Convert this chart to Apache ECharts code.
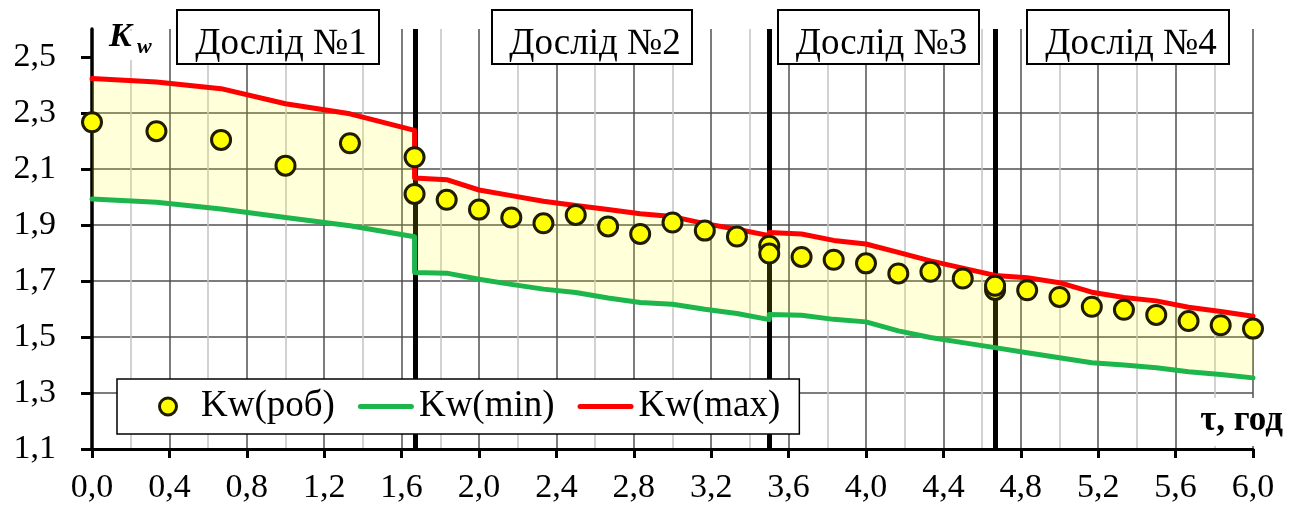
<!DOCTYPE html>
<html>
<head>
<meta charset="utf-8">
<script src="https://cdn.jsdelivr.net/npm/echarts@6/dist/echarts.min.js"></script>
<style>
  html, body { margin: 0; padding: 0; background: #fff; }
  #chart { width: 1297px; height: 510px; }
</style>
</head>
<body>
<div id="chart"></div>
<script>
// Time, years: envelope sampling points (duplicated at the joins between experiments)
const envT = [0, 0.333, 0.667, 1.0, 1.333, 1.667,
  1.667, 1.833, 2.0, 2.167, 2.333, 2.5, 2.667, 2.833, 3.0, 3.167, 3.333, 3.5,
  3.5, 3.667, 3.833, 4.0, 4.167, 4.333, 4.5, 4.667,
  4.833, 5.0, 5.167, 5.333, 5.5, 5.667, 5.833, 6.0];

// Upper bound of the wear coefficient
const kwMax = [2.423, 2.411, 2.387, 2.333, 2.297, 2.238,
  2.068, 2.062, 2.025, 2.005, 1.985, 1.970, 1.955, 1.940, 1.930, 1.905, 1.885, 1.862,
  1.873, 1.868, 1.845, 1.832, 1.802, 1.772, 1.746, 1.720,
  1.712, 1.694, 1.660, 1.641, 1.629, 1.606, 1.591, 1.574];

// Lower bound of the wear coefficient
const kwMin = [1.993, 1.981, 1.957, 1.927, 1.897, 1.858,
  1.730, 1.728, 1.706, 1.688, 1.671, 1.659, 1.639, 1.623, 1.617, 1.599, 1.584, 1.562,
  1.580, 1.578, 1.563, 1.554, 1.522, 1.498, 1.480, 1.462,
  1.444, 1.426, 1.408, 1.400, 1.390, 1.376, 1.366, 1.354];

// Measured (working) values
const workT = [0, 0.333, 0.667, 1.0, 1.333, 1.667,
  1.667, 1.833, 2.0, 2.167, 2.333, 2.5, 2.667, 2.833, 3.0, 3.167, 3.333, 3.5,
  3.5, 3.667, 3.833, 4.0, 4.167, 4.333, 4.5, 4.667,
  4.667, 4.833, 5.0, 5.167, 5.333, 5.5, 5.667, 5.833, 6.0];
const kwWork = [2.267, 2.235, 2.204, 2.112, 2.192, 2.142,
  2.011, 1.990, 1.955, 1.927, 1.906, 1.936, 1.895, 1.868, 1.909, 1.880, 1.859, 1.826,
  1.798, 1.786, 1.776, 1.763, 1.727, 1.733, 1.709, 1.668,
  1.683, 1.667, 1.643, 1.608, 1.597, 1.579, 1.557, 1.542, 1.530];

// Boundaries between experiments, years
const boundaries = [1.667, 3.5, 4.667];

// Experiment titles
const expTitles = ['Дослід №1', 'Дослід №2', 'Дослід №3', 'Дослід №4'];

// Y tick values
const yTicks = [1.1, 1.3, 1.5, 1.7, 1.9, 2.1, 2.3, 2.5];

const FONT = '"Liberation Serif", "Times New Roman", serif';
const fmt = v => v.toFixed(1).replace('.', ',');
const zip = (xs, ys) => xs.map((x, i) => [x, ys[i]]);

// legend glyph for the line series: a short thick stroke with round ends
const LINE_ICON = 'path://M2.5,0 H53.5 A2.5,2.5 0 0 1 53.5,5 H2.5 A2.5,2.5 0 0 1 2.5,0 Z';

// Title boxes above the plot: [left, width]
const boxGeom = [[177, 202], [492, 200], [778, 201], [1027, 202]];

const graphics = [];
// white patch behind the axis name
graphics.push({ type: 'rect', z: 50, shape: { x: 106, y: 31, width: 54, height: 29 }, style: { fill: '#fff' } });
graphics.push({ type: 'text', z: 51, x: 109, y: 37,
  style: { text: 'K', fontFamily: FONT, fontSize: 34, fontWeight: 'bold', fontStyle: 'italic', fill: '#000', verticalAlign: 'middle' } });
graphics.push({ type: 'text', z: 51, x: 137, y: 47,
  style: { text: 'w', fontFamily: FONT, fontSize: 22, fontWeight: 'bold', fontStyle: 'italic', fill: '#000', verticalAlign: 'middle' } });
expTitles.forEach((t, i) => {
  const [bx, bw] = boxGeom[i];
  graphics.push({ type: 'rect', z: 50, shape: { x: bx, y: 10, width: bw, height: 54 },
    style: { fill: '#fff', stroke: '#000', lineWidth: 2 } });
  graphics.push({ type: 'text', z: 51, x: bx + bw / 2 + 3, y: 44,
    style: { text: t, fontFamily: FONT, fontSize: 37, fill: '#000', align: 'center', verticalAlign: 'middle' } });
});
// x axis name
graphics.push({ type: 'rect', z: 50, shape: { x: 1188, y: 398, width: 100, height: 48 }, style: { fill: '#fff' } });
graphics.push({ type: 'text', z: 51, x: 1283, y: 421,
  style: { text: 'τ, год', fontFamily: FONT, fontSize: 35, fontWeight: 'bold', fill: '#000', align: 'right', verticalAlign: 'middle' } });

const option = {
  animation: false,
  backgroundColor: '#fff',
  grid: { left: 92, right: 44, top: 29, bottom: 61 },
  xAxis: {
    type: 'value', min: 0, max: 6, interval: 0.4,
    axisLine: { show: true, onZero: false, lineStyle: { color: '#000', width: 3 } },
    axisTick: { show: true, length: 9, lineStyle: { color: '#000', width: 3 } },
    axisLabel: { formatter: fmt, fontFamily: FONT, fontSize: 34, color: '#000', margin: 22 },
    splitLine: { show: true, lineStyle: { color: '#505050', width: 1.5 } },
    minorTick: { show: false, splitNumber: 2 },
    minorSplitLine: { show: true, lineStyle: { color: '#c4c4c4', width: 1.5 } }
  },
  yAxis: {
    type: 'value', min: 1.1, max: 2.6, interval: 0.2,
    axisLine: { show: true, onZero: false, lineStyle: { color: '#000', width: 3.5 } },
    axisTick: { show: true, length: 11, customValues: yTicks, lineStyle: { color: '#000', width: 3 } },
    axisLabel: {
      formatter: v => (v > 2.55 ? '' : fmt(v)),
      fontFamily: FONT, fontSize: 34, color: '#000', margin: 36
    },
    splitLine: { show: true, showMinLine: false, showMaxLine: false, lineStyle: { color: '#505050', width: 1.5 } }
  },
  legend: {
    data: [
      { name: 'Kw(роб)', icon: 'circle',
        itemStyle: { color: '#ffff00', borderColor: '#1f1c00', borderWidth: 3 } },
      { name: 'Kw(min)', icon: LINE_ICON, itemStyle: { color: '#1db64c', borderWidth: 0 } },
      { name: 'Kw(max)', icon: LINE_ICON, itemStyle: { color: '#ff0000', borderWidth: 0 } }
    ],
    left: 117, top: 379, orient: 'horizontal',
    itemWidth: 56, itemHeight: 17, itemGap: 23,
    padding: [9, 19, 9, 41],
    backgroundColor: '#fff', borderColor: '#000', borderWidth: 1.5, borderRadius: 0,
    z: 20,
    textStyle: { fontFamily: FONT, fontSize: 37, color: '#000', lineHeight: 36 }
  },
  graphic: graphics,
  series: [
    {
      // shaded corridor between the lower and upper bounds, plus the experiment dividers
      name: 'band', type: 'custom', silent: true, z: 2,
      data: [[0, 1.1]], encode: { x: 0, y: 1 },
      renderItem: (params, api) => {
        const upper = envT.map((t, i) => api.coord([t, kwMax[i]]));
        const lower = envT.map((t, i) => api.coord([t, kwMin[i]])).reverse();
        return {
          type: 'polygon',
          shape: { points: upper.concat(lower) },
          style: { fill: 'rgba(255,255,0,0.15)', stroke: null }
        };
      },
      markLine: {
        silent: true, z: 1, symbol: ['none', 'none'],
        label: { show: false },
        lineStyle: { color: '#000', width: 5, type: 'solid' },
        emphasis: { disabled: true },
        data: boundaries.map(b => ({ xAxis: b }))
      }
    },
    {
      name: 'Kw(min)', type: 'line', data: zip(envT, kwMin), symbol: 'none', z: 3,
      itemStyle: { color: '#1db64c' },
      lineStyle: { color: '#1db64c', width: 5, cap: 'round', join: 'round' }
    },
    {
      name: 'Kw(max)', type: 'line', data: zip(envT, kwMax), symbol: 'none', z: 3,
      itemStyle: { color: '#ff0000' },
      lineStyle: { color: '#ff0000', width: 5, cap: 'round', join: 'round' }
    },
    {
      name: 'Kw(роб)', type: 'scatter', data: zip(workT, kwWork), z: 4,
      symbol: 'circle', symbolSize: 19,
      itemStyle: { color: '#ffff00', borderColor: '#1f1c00', borderWidth: 3, opacity: 1 }
    }
  ]
};

const chart = echarts.init(document.getElementById('chart'), null, { renderer: 'canvas' });
chart.setOption(option);
</script>
</body>
</html>
